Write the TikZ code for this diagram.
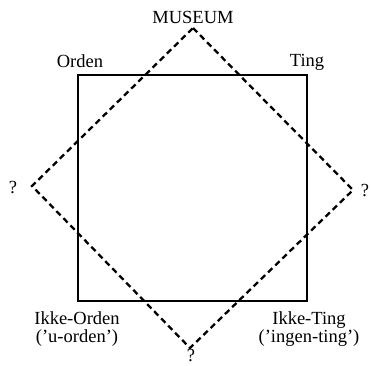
\documentclass[tikz,border=0pt]{standalone}
\usepackage{fontspec}
\setmainfont{Liberation Serif}
\begin{document}
\begin{tikzpicture}[x=1pt,y=-1pt,
  lbl/.style={inner sep=0pt,font=\fontsize{18.5}{17.5}\selectfont},
  sqline/.style={line width=1.9pt},
  dmline/.style={line width=2.3pt,dash pattern=on 6pt off 4pt}]
\useasboundingbox (0,0) rectangle (371,365);
% square corners
\coordinate (tl) at (78,75);
\coordinate (tr) at (307,75);
\coordinate (br) at (307,301);
\coordinate (bl) at (78,301);
% diamond corners
\coordinate (dt) at (193,28);
\coordinate (dr) at (353,190);
\coordinate (db) at (190,348);
\coordinate (dl) at (32,186);
\draw[sqline] (tl) -- (tr) -- (br) -- (bl) -- cycle;
\draw[dmline] (dt) -- (dr) -- (db) -- (dl) -- cycle;
% labels
\node[lbl] (museum) at (193,17) {MUSEUM};
\node[lbl] (orden) at (80,61) {Orden};
\node[lbl] (ting) at (307,62) {Ting};
\node[lbl] (ql) at (13,187) {?};
\node[lbl] (qr) at (365,190) {?};
\node[lbl] (qb) at (191,355) {?};
\node[lbl,align=center] (ikkeorden) at (77,329) {Ikke-Orden\\('u-orden')};
\node[lbl,align=center] (ikketing) at (309,329) {Ikke-Ting\\('ingen-ting')};
\end{tikzpicture}
\end{document}
